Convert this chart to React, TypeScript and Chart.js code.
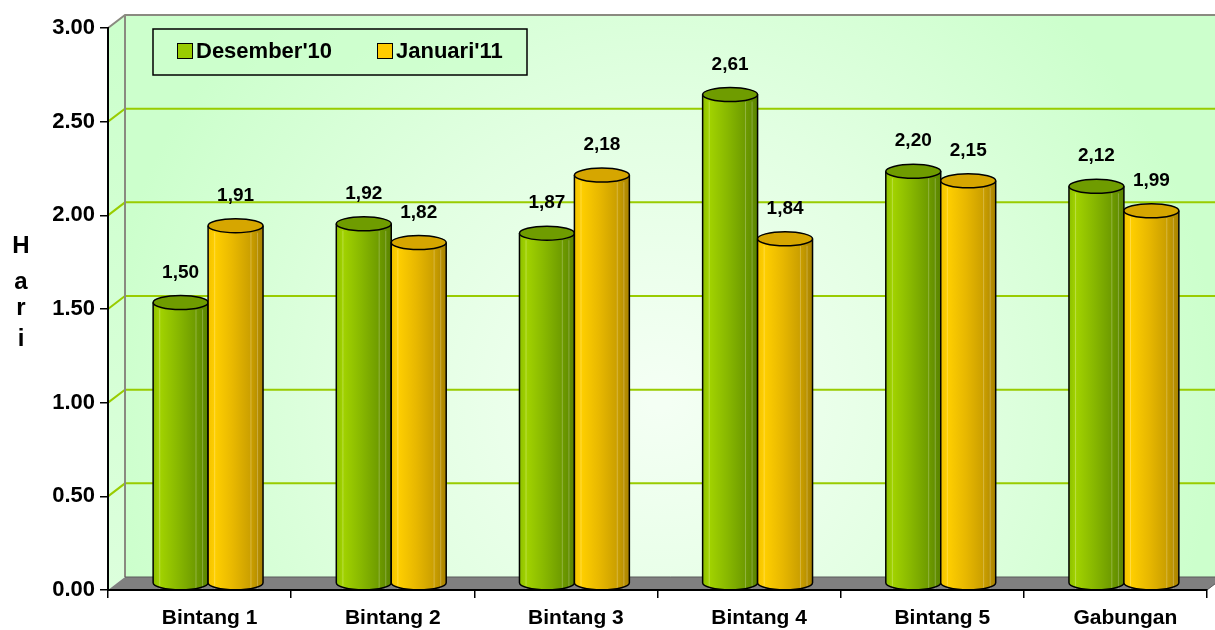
import React, { useEffect, useRef } from "react";
import { Chart, registerables } from "chart.js";

Chart.register(...registerables);

const categories = ["Bintang 1", "Bintang 2", "Bintang 3", "Bintang 4", "Bintang 5", "Gabungan"];
const desember = [1.5, 1.92, 1.87, 2.61, 2.2, 2.12];
const januari = [1.91, 1.82, 2.18, 1.84, 2.15, 1.99];
const seriesNames = ["Desember'10", "Januari'11"];
const yAxisLetters = ["H", "a", "r", "i"];
const yMin = 0;
const yMax = 3;
const yStep = 0.5;

const FONT = "'Liberation Sans', Arial, sans-serif";
const DX = 17;
const DY = 13;

const seriesStyles = [
  {
    swatch: "#99cc00",
    top: "#6f9c00",
    stops: [
      [0, "#8cbf00"],
      [0.12, "#a2d300"],
      [0.45, "#88b800"],
      [0.8, "#6c9900"],
      [1, "#5a8400"],
    ],
  },
  {
    swatch: "#ffcc00",
    top: "#d6a600",
    stops: [
      [0, "#f2c200"],
      [0.12, "#ffcf00"],
      [0.45, "#e8b800"],
      [0.8, "#c89d00"],
      [1, "#a88200"],
    ],
  },
];

const scenePlugin = {
  id: "scene3d",
  beforeDraw(chart: any) {
    const { ctx, chartArea } = chart;
    const ys = chart.scales.y;
    const L = chartArea.left;
    const R = chartArea.right;
    const T = chartArea.top;
    const B = chartArea.bottom;
    ctx.save();
    // back wall
    const g = ctx.createRadialGradient(660, 400, 10, 660, 400, 560);
    g.addColorStop(0, "#f4fff4");
    g.addColorStop(0.5, "#e2ffe2");
    g.addColorStop(1, "#ccffcc");
    ctx.fillStyle = g;
    ctx.fillRect(L + DX, T - DY, R + DX + 20 - (L + DX), B - T);
    // side wall
    const sg = ctx.createLinearGradient(0, T, 0, B);
    sg.addColorStop(0, "#ccffcc");
    sg.addColorStop(1, "#dcffdc");
    ctx.fillStyle = sg;
    ctx.beginPath();
    ctx.moveTo(L, T);
    ctx.lineTo(L + DX, T - DY);
    ctx.lineTo(L + DX, B - DY);
    ctx.lineTo(L, B);
    ctx.closePath();
    ctx.fill();
    // gridlines
    ctx.strokeStyle = "#99cc00";
    ctx.lineWidth = 2;
    for (let v = yMin + yStep; v < yMax - 1e-6; v += yStep) {
      const py = ys.getPixelForValue(v);
      ctx.beginPath();
      ctx.moveTo(L, py);
      ctx.lineTo(L + DX, py - DY);
      ctx.lineTo(R + DX + 20, py - DY);
      ctx.stroke();
    }
    // wall edges
    ctx.strokeStyle = "#8a8a80";
    ctx.lineWidth = 2;
    ctx.beginPath();
    ctx.moveTo(L, T);
    ctx.lineTo(L + DX, T - DY);
    ctx.lineTo(R + DX + 20, T - DY);
    ctx.moveTo(L + DX, T - DY);
    ctx.lineTo(L + DX, B - DY);
    ctx.stroke();
    // floor
    ctx.fillStyle = "#808080";
    ctx.beginPath();
    ctx.moveTo(L, B);
    ctx.lineTo(L + DX, B - DY);
    ctx.lineTo(R + DX, B - DY);
    ctx.lineTo(R, B);
    ctx.closePath();
    ctx.fill();
    ctx.strokeStyle = "#5a5a5a";
    ctx.lineWidth = 1;
    ctx.beginPath();
    ctx.moveTo(L + DX, B - DY);
    ctx.lineTo(R + DX, B - DY);
    ctx.moveTo(R, B);
    ctx.lineTo(R + DX, B - DY);
    ctx.stroke();
    ctx.restore();
  },
  afterDatasetsDraw(chart: any) {
    const { ctx } = chart;
    ctx.save();
    const ry = 7;
    chart.data.datasets.forEach((ds: any, di: number) => {
      const meta = chart.getDatasetMeta(di);
      const st = seriesStyles[di];
      meta.data.forEach((el: any) => {
        const p = el.getProps(["x", "y", "base", "width"], true);
        const cx = p.x + DX / 2;
        const rx = p.width / 2;
        const x0 = cx - rx;
        const x1 = cx + rx;
        const yt = p.y - DY / 2;
        const yb = p.base - DY / 2;
        const grad = ctx.createLinearGradient(x0, 0, x1, 0);
        st.stops.forEach((s: any) => grad.addColorStop(s[0], s[1]));
        ctx.beginPath();
        ctx.moveTo(x0, yt);
        ctx.lineTo(x0, yb);
        ctx.ellipse(cx, yb, rx, ry, 0, Math.PI, 0, true);
        ctx.lineTo(x1, yt);
        ctx.ellipse(cx, yt, rx, ry, 0, 0, Math.PI, false);
        ctx.closePath();
        ctx.fillStyle = grad;
        ctx.fill();
        ctx.strokeStyle = "rgba(255,255,255,0.25)";
        ctx.lineWidth = 1;
        [0.12, 0.78, 0.9].forEach((f) => {
          const fx = x0 + f * (x1 - x0);
          ctx.beginPath();
          ctx.moveTo(fx, yt + ry);
          ctx.lineTo(fx, yb + ry - 1);
          ctx.stroke();
        });
        ctx.strokeStyle = "#000";
        ctx.lineWidth = 1.5;
        ctx.beginPath();
        ctx.moveTo(x0, yt);
        ctx.lineTo(x0, yb);
        ctx.ellipse(cx, yb, rx, ry, 0, Math.PI, 0, true);
        ctx.lineTo(x1, yt);
        ctx.stroke();
        ctx.beginPath();
        ctx.ellipse(cx, yt, rx, ry, 0, 0, Math.PI * 2);
        ctx.fillStyle = st.top;
        ctx.fill();
        ctx.stroke();
      });
    });
    ctx.fillStyle = "#000";
    ctx.font = `bold 19px ${FONT}`;
    ctx.textAlign = "center";
    ctx.textBaseline = "alphabetic";
    chart.data.datasets.forEach((ds: any, di: number) => {
      const meta = chart.getDatasetMeta(di);
      meta.data.forEach((el: any, j: number) => {
        const p = el.getProps(["x", "y"], true);
        const v = ds.data[j] as number;
        ctx.fillText(v.toFixed(2).replace(".", ","), p.x + DX / 2, p.y - DY / 2 - 25);
      });
    });
    ctx.restore();
  },
  afterDraw(chart: any) {
    const { ctx } = chart;
    ctx.save();
    ctx.fillStyle = "rgba(204,255,204,0.7)";
    ctx.fillRect(153, 29, 374, 46);
    ctx.strokeStyle = "#000";
    ctx.lineWidth = 1.5;
    ctx.strokeRect(153, 29, 374, 46);
    const items = [
      { x: 177, label: seriesNames[0], color: seriesStyles[0].swatch },
      { x: 377, label: seriesNames[1], color: seriesStyles[1].swatch },
    ];
    ctx.font = `bold 22px ${FONT}`;
    ctx.textAlign = "left";
    ctx.textBaseline = "alphabetic";
    items.forEach((it) => {
      ctx.fillStyle = it.color;
      ctx.fillRect(it.x, 43, 15, 15);
      ctx.strokeStyle = "#000";
      ctx.lineWidth = 1;
      ctx.strokeRect(it.x + 0.5, 43.5, 15, 15);
      ctx.fillStyle = "#000";
      ctx.fillText(it.label, it.x + 19, 58);
    });
    ctx.font = `bold 24px ${FONT}`;
    ctx.textAlign = "center";
    const baselines = [253, 289, 315, 346];
    yAxisLetters.forEach((ch, i) => ctx.fillText(ch, 21, baselines[i]));
    ctx.restore();
  },
};

export default function App() {
  const ref = useRef<HTMLCanvasElement | null>(null);
  useEffect(() => {
    if (!ref.current) return;
    const chart = new Chart(ref.current, {
      type: "bar",
      data: {
        labels: categories,
        datasets: [
          { label: seriesNames[0], data: desember, backgroundColor: "rgba(0,0,0,0)", borderWidth: 0 },
          { label: seriesNames[1], data: januari, backgroundColor: "rgba(0,0,0,0)", borderWidth: 0 },
        ],
      },
      options: {
        responsive: true,
        maintainAspectRatio: false,
        animation: false,
        layout: { padding: { top: 28, right: 8, left: 0, bottom: 0 } },
        datasets: { bar: { categoryPercentage: 0.6, barPercentage: 1.0 } },
        plugins: { legend: { display: false }, tooltip: { enabled: false } },
        scales: {
          x: {
            offset: true,
            grid: { display: true, drawOnChartArea: false, drawTicks: true, tickLength: 8, color: "#000", lineWidth: 1.5, offset: true },
            border: { display: true, color: "#000", width: 2 },
            ticks: { color: "#000", font: { family: FONT, size: 21, weight: "bold" }, padding: 8, labelOffset: 10, maxRotation: 0 },
            afterFit: (s: any) => {
              s.height = 40;
            },
          },
          y: {
            min: yMin,
            max: yMax,
            grid: { display: true, drawOnChartArea: false, drawTicks: true, tickLength: 8, color: "#000", lineWidth: 1.5 },
            border: { display: true, color: "#000", width: 2 },
            ticks: {
              stepSize: yStep,
              color: "#000",
              padding: 5,
              font: { family: FONT, size: 22, weight: "bold" },
              callback: (v: any) => Number(v).toFixed(2),
            },
            afterFit: (s: any) => {
              s.width = 108;
            },
          },
        },
      },
      plugins: [scenePlugin],
    } as any);
    return () => chart.destroy();
  }, []);
  return (
    <div style={{ position: "absolute", left: 0, top: 0, width: 1215, height: 630 }}>
      <canvas ref={ref} />
    </div>
  );
}
